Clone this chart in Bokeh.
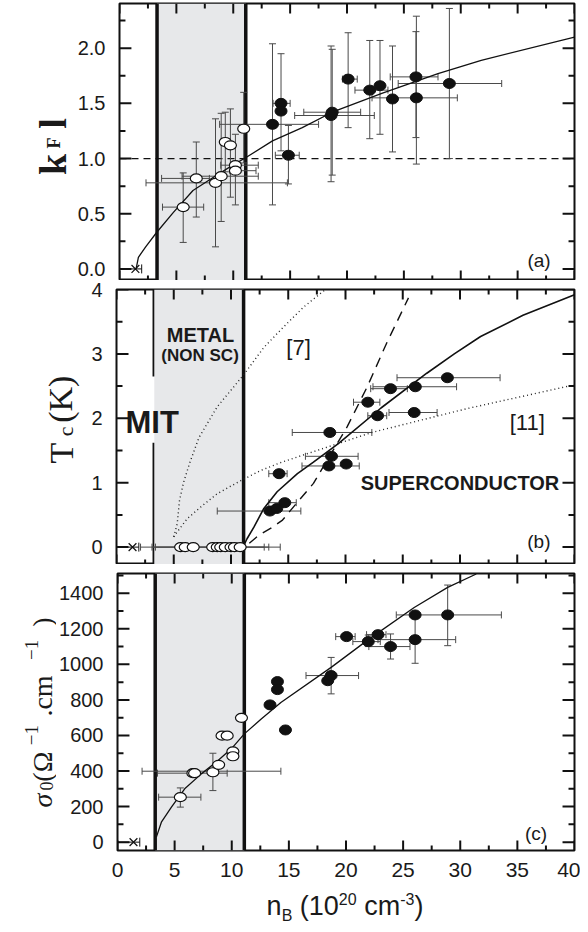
import numpy as np
from bokeh.plotting import figure
from bokeh.models import (ColumnDataSource, Whisker, TeeHead, Span, BoxAnnotation, Label,
                          LinearAxis, FixedTicker, Range1d, Div, NumeralTickFormatter)
from bokeh.layouts import column, row
from bokeh.embed import file_html
from bokeh.resources import INLINE

FONT = "Liberation Sans"
SERIF = "Liberation Serif"

# ---------------- data ----------------
x_ticks = [0, 5, 10, 15, 20, 25, 30, 35, 40]
x_minor = [2.5, 7.5, 12.5, 17.5, 22.5, 27.5, 32.5, 37.5]
band_left, band_right = 3.3, 11.1
mit_line_y0 = [4.0, 1.62]
mit_line_y1 = [2.65, -0.3]

# panel (a)  kF l
a_yr = (-0.105, 2.405)
a_ticks = [0, 0.5, 1.0, 1.5, 2.0]
a_minor = [0.25, 0.75, 1.25, 1.75, 2.25]
a_open_x = [5.6, 6.75, 8.44, 8.94, 9.3, 9.75, 10.19, 10.19, 10.92]
a_open_y = [0.56, 0.82, 0.78, 0.84, 1.15, 1.12, 0.94, 0.89, 1.27]
a_fill_x = [13.45, 14.2, 14.2, 14.85, 18.6, 18.7, 20.1, 22.0, 22.9, 24.0, 26.1, 26.06, 29.0]
a_fill_y = [1.31, 1.50, 1.43, 1.03, 1.39, 1.42, 1.72, 1.62, 1.66, 1.54, 1.55, 1.74, 1.68]
a_yerr_x = [5.6, 6.75, 8.44, 8.94, 9.3, 9.75, 10.19, 10.92,
            13.45, 14.2, 14.85, 18.6, 18.7, 20.1, 22.0, 22.9, 24.0, 26.1, 26.06, 29.0]
a_yerr_lo = [0.24, 0.47, 0.20, 0.43, 0.88, 0.65, 0.58, 0.96,
             0.58, 1.07, 0.77, 0.79, 0.85, 1.28, 1.18, 1.22, 1.06, 0.95, 1.19, 1.00]
a_yerr_hi = [0.87, 1.15, 1.36, 1.41, 1.42, 1.45, 1.22, 1.60,
             2.04, 1.95, 1.30, 2.02, 1.99, 2.14, 2.07, 2.07, 2.02, 2.29, 2.15, 2.36]
a_xerr_y = [0.56, 0.82, 0.78, 0.84, 0.94, 0.89,
            1.31, 1.50, 1.03, 1.39, 1.42, 1.72, 1.62, 1.55, 1.74, 1.68]
a_xerr_lo = [3.78, 3.7, 2.33, 5.5, 8.9, 9.7,
             8.8, 13.5, 13.7, 15.4, 16.2, 19.6, 20.7, 22.2, 23.8, 24.5]
a_xerr_hi = [7.4, 7.9, 14.76, 12.2, 12.2, 12.0,
             17.5, 15.0, 15.8, 22.4, 21.2, 20.9, 23.6, 29.7, 28.0, 33.6]
a_curve_x = [1.46, 1.66, 2.3, 3.26, 4.72, 6.46, 8.5, 9.96, 11.12, 13.45, 16.07, 18.7, 23.06, 28.0, 31.8, 40.0]
a_curve_y = [0.0, 0.105, 0.2, 0.33, 0.51, 0.71, 0.846, 0.94, 1.01, 1.16, 1.28, 1.42, 1.59, 1.77, 1.89, 2.10]

# panel (b)  Tc
b_yr = (-0.27, 4.0)
b_ticks = [0, 1, 2, 3, 4]
b_minor = [0.5, 1.5, 2.5, 3.5]
b_open_x = [5.6, 6.0, 6.7, 8.4, 8.8, 9.1, 9.5, 10.0, 10.3, 10.8]
b_open_y = [0, 0, 0, 0, 0, 0, 0, 0, 0, 0]
b_fill_x = [13.4, 14.0, 14.7, 14.2, 18.63, 18.78, 18.55, 20.06, 21.95, 22.8, 23.93, 26.1, 26.0, 28.9]
b_fill_y = [0.56, 0.60, 0.69, 1.14, 1.78, 1.41, 1.26, 1.29, 2.25, 2.04, 2.46, 2.49, 2.09, 2.63]
b_xerr_y = [0, 0, 0, 0.56, 0.69, 1.14, 1.78, 1.41, 1.26, 2.25, 2.04, 2.46, 2.49, 2.09, 2.63]
b_xerr_lo = [2.1, 3.1, 3.4, 8.8, 13.3, 13.3, 15.35, 16.5, 16.2, 20.7, 21.95, 22.2, 22.4, 23.8, 24.5]
b_xerr_hi = [14.3, 13.3, 12.9, 16.1, 15.7, 14.9, 22.3, 21.1, 21.2, 23.0, 23.6, 25.4, 29.7, 28.0, 33.5]
b_solid_x = [11.1, 11.4, 12.0, 12.87, 14.03, 15.8, 17.2, 19.4, 23.1, 27.1, 29.5, 31.8, 35.5, 40.0]
b_solid_y = [0.02, 0.13, 0.31, 0.60, 0.86, 1.14, 1.32, 1.61, 2.16, 2.70, 3.0, 3.27, 3.6, 3.92]
b_dash_x = [11.6, 12.4, 13.45, 14.5, 15.2, 17.2, 18.4, 20.15, 21.9, 23.6, 25.5]
b_dash_y = [0.06, 0.18, 0.29, 0.42, 0.57, 0.99, 1.35, 1.87, 2.49, 3.17, 3.87]
b_dot7_x = [5.0, 5.3, 5.5, 5.85, 6.4, 7.2, 8.8, 10.25, 11.12, 12.87, 14.6, 16.36, 18.25]
b_dot7_y = [0.16, 0.36, 0.72, 1.0, 1.31, 1.7, 2.18, 2.49, 2.68, 3.1, 3.42, 3.73, 4.0]
b_dot11_x = [5.0, 5.15, 6.17, 7.34, 8.8, 10.83, 12.6, 14.3, 15.8, 22.3, 30.6, 40.0]
b_dot11_y = [0.16, 0.2, 0.44, 0.62, 0.83, 1.03, 1.19, 1.31, 1.40, 1.78, 2.15, 2.52]

# panel (c)  sigma0
c_yr = (-47, 1511)
c_ticks = [0, 200, 400, 600, 800, 1000, 1200, 1400]
c_minor = [100, 300, 500, 700, 900, 1100, 1300, 1500]
c_open_x = [5.5, 6.6, 6.75, 8.35, 8.85, 9.15, 9.6, 10.1, 10.1, 10.85]
c_open_y = [253, 388, 388, 393, 435, 599, 599, 510, 483, 699]
c_fill_x = [13.35, 14.0, 14.0, 14.7, 18.4, 18.7, 20.05, 21.95, 22.8, 23.9, 26.05, 26.05, 28.9]
c_fill_y = [772, 903, 858, 631, 908, 937, 1156, 1128, 1167, 1100, 1278, 1139, 1278]
c_yerr_x = [5.5, 8.35, 18.7, 21.95, 23.9, 26.05, 28.9]
c_yerr_lo = [197, 290, 834, 1100, 1030, 1006, 1105]
c_yerr_hi = [305, 500, 1039, 1165, 1171, 1270, 1446]
c_xerr_y = [253, 388, 399, 937, 1156, 1128, 1167, 1100, 1139, 1278]
c_xerr_lo = [3.6, 3.5, 2.15, 16.5, 19.1, 20.6, 21.8, 22.0, 22.8, 24.4]
c_xerr_hi = [7.3, 9.6, 14.3, 21.1, 20.8, 23.0, 23.5, 25.6, 29.6, 33.6]
c_curve_x = [3.4, 3.84, 4.72, 5.88, 7.34, 8.8, 9.96, 11.1, 12.58, 14.3, 18.7, 21.95, 25.97, 28.9, 31.4]
c_curve_y = [28, 112, 197, 300, 384, 459, 525, 609, 693, 785, 983, 1139, 1320, 1433, 1508]

# insulating sample (cross) in every panel
ins_x = [1.4]
ins_xerr_lo = [0.0]
ins_xerr_hi = [1.95]

EB = "#4a4a4a"
INK = "#111111"
TOTAL_W = 580
FRAME_LEFT = 116
FRAME_W = 458
V = np.pi / 2
X0, X1 = 0, 40
TICK_X_MAJOR, TICK_X_MINOR = 10, 5      # px
TICK_Y_MAJOR, TICK_Y_MINOR = 12, 6      # px
TICK_W = 2                              # px


def make_fig(h, yr, yt, ym, fmt, btop, bbot, show_x, lw):
    p = figure(width=TOTAL_W - lw, height=h, x_range=Range1d(X0, X1), y_range=yr,
               output_backend="svg", toolbar_location=None, tools="",
               min_border_left=FRAME_LEFT - lw, min_border_right=6,
               min_border_top=btop, min_border_bottom=bbot,
               x_axis_location=None, y_axis_location=None)
    p.grid.visible = False
    p.outline_line_color = INK
    p.outline_line_width = 2
    p.background_fill_color = "white"
    p.border_fill_color = "white"
    ax = LinearAxis(ticker=FixedTicker(ticks=yt), formatter=NumeralTickFormatter(format=fmt))
    ax.major_tick_in = 0
    ax.major_tick_out = 0
    ax.minor_tick_line_color = None
    ax.axis_line_color = None
    ax.major_label_text_font = FONT
    ax.major_label_text_font_size = "20px"
    ax.major_label_text_color = "#1a1a1a"
    ax.major_label_standoff = 14
    p.add_layout(ax, "left")
    if show_x:
        bx = LinearAxis(ticker=FixedTicker(ticks=x_ticks))
        bx.major_tick_in = 0
        bx.major_tick_out = 0
        bx.minor_tick_line_color = None
        bx.axis_line_color = None
        bx.major_label_text_font = FONT
        bx.major_label_text_font_size = "21px"
        bx.major_label_text_color = "#1a1a1a"
        bx.major_label_standoff = 12
        p.add_layout(bx, "below")
    p.add_layout(BoxAnnotation(left=band_left, right=band_right, fill_color="#e7e8ea",
                               fill_alpha=1, line_color=None, level="underlay"))
    return p


def tick_box(p, left, right, bottom, top):
    p.add_layout(BoxAnnotation(left=left, right=right, bottom=bottom, top=top,
                               fill_color=INK, fill_alpha=1, line_color=None, level="overlay"))


def add_ticks(p, h, yr, yt, ym, btop, bbot):
    # inward ticks on all four sides (pixel sizes converted with the frame's own scale)
    fh = h - btop - bbot
    y0, y1 = yr.start, yr.end
    dy = (y1 - y0) / fh
    dx = (X1 - X0) / FRAME_W
    hw_x = TICK_W / 2 * dx
    hw_y = TICK_W / 2 * dy
    for tx, L in ((x_ticks, TICK_X_MAJOR), (x_minor, TICK_X_MINOR)):
        for t in tx:
            tick_box(p, t - hw_x, t + hw_x, y0, y0 + L * dy)
            tick_box(p, t - hw_x, t + hw_x, y1 - L * dy, y1)
    for ty, L in ((yt, TICK_Y_MAJOR), (ym, TICK_Y_MINOR)):
        for t in ty:
            tick_box(p, X0, X0 + L * dx, t - hw_y, t + hw_y)
            tick_box(p, X1 - L * dx, X1, t - hw_y, t + hw_y)


def label_fig(w, h, yr, btop, bbot):
    f = figure(width=w, height=h, x_range=Range1d(0, w), y_range=yr,
               output_backend="svg", toolbar_location=None, tools="",
               min_border_left=0, min_border_right=0, min_border_top=btop, min_border_bottom=bbot,
               x_axis_location=None, y_axis_location=None)
    f.grid.visible = False
    f.outline_line_color = None
    f.background_fill_color = "white"
    f.border_fill_color = "white"
    return f


def whisk(p, base, lo, hi, dim):
    src = ColumnDataSource(dict(base=base, lower=lo, upper=hi))
    p.add_layout(Whisker(source=src, base="base", lower="lower", upper="upper", dimension=dim,
                         line_color=EB, line_width=1, level="underlay",
                         upper_head=TeeHead(size=7, line_color=EB, line_width=1),
                         lower_head=TeeHead(size=7, line_color=EB, line_width=1)))


def band_lines(p):
    for loc in (band_left, band_right):
        p.add_layout(Span(location=loc, dimension="height", line_color=INK,
                          line_width=3.5, level="underlay"))


def open_pts(p, xs, ys):
    p.ellipse(x=xs, y=ys, width=12, height=9, width_units="screen", height_units="screen",
              fill_color="white", line_color=INK, line_width=1.2)


def fill_pts(p, xs, ys):
    p.ellipse(x=xs, y=ys, width=12, height=10, width_units="screen", height_units="screen",
              fill_color=INK, line_color=INK, line_width=1)


def insul(p):
    src = ColumnDataSource(dict(base=[0], lower=ins_xerr_lo, upper=ins_xerr_hi))
    p.add_layout(Whisker(source=src, base="base", lower="lower", upper="upper", dimension="width",
                         line_color=INK, line_width=1, lower_head=None,
                         upper_head=TeeHead(size=9, line_color=INK, line_width=1)))
    p.scatter(x=ins_x, y=[0], marker="x", size=11, line_color=INK, line_width=1.2)


def lab(p, x, y, text, size, font=FONT, fstyle="normal", align="left", angle=0.0, color="#1a1a1a"):
    p.add_layout(Label(x=x, y=y, text=text, text_font=font, text_font_size=size,
                       text_font_style=fstyle, text_align=align, text_baseline="alphabetic",
                       angle=angle, text_color=color))


def vlab(f, x, y_bottom, text, size, fstyle="normal"):
    # vertical (bottom-to-top) text piece starting at y_bottom
    lab(f, x, y_bottom, text, size, font=SERIF, fstyle=fstyle, align="left", angle=V)


# ---------------- panel (a) ----------------
ra = Range1d(*a_yr)
LWA = 74
pa = make_fig(280, ra, a_ticks, a_minor, "0.0", 3, 0, False, LWA)
band_lines(pa)
pa.add_layout(Span(location=1.0, dimension="width", line_color=INK, line_width=1.2,
                   line_dash="7 5", level="underlay"))
whisk(pa, a_yerr_x, a_yerr_lo, a_yerr_hi, "height")
whisk(pa, a_xerr_y, a_xerr_lo, a_xerr_hi, "width")
pa.line(a_curve_x, a_curve_y, line_color=INK, line_width=1.3)
open_pts(pa, a_open_x, a_open_y)
fill_pts(pa, a_fill_x, a_fill_y)
insul(pa)
add_ticks(pa, 280, ra, a_ticks, a_minor, 3, 0)
lab(pa, 37.9, 0.075, "(a)", "19px", align="right")
la = label_fig(LWA, 280, ra, 3, 0)
vlab(la, 52, 0.85, "k", "38px", "bold")
vlab(la, 53, 1.09, "F", "18px", "bold")
vlab(la, 52, 1.27, "l", "38px", "bold")

# ---------------- panel (b) ----------------
rb = Range1d(*b_yr)
LWB = 84
pb = make_fig(284, rb, b_ticks, b_minor, "0", 9, 0, False, LWB)
pb.add_layout(Span(location=band_right, dimension="height", line_color=INK,
                   line_width=3.5, level="underlay"))
pb.segment(x0=[band_left] * 2, y0=mit_line_y0, x1=[band_left] * 2, y1=mit_line_y1,
           line_color=INK, line_width=3.5, level="underlay")
whisk(pb, b_xerr_y, b_xerr_lo, b_xerr_hi, "width")
pb.line(b_dot7_x, b_dot7_y, line_color="#222", line_width=1.4, line_dash="1 3")
pb.line(b_dot11_x, b_dot11_y, line_color="#222", line_width=1.4, line_dash="1 3")
pb.line(b_dash_x, b_dash_y, line_color=INK, line_width=1.4, line_dash="10 7")
pb.line(b_solid_x, b_solid_y, line_color=INK, line_width=1.6)
open_pts(pb, b_open_x, b_open_y)
fill_pts(pb, b_fill_x, b_fill_y)
insul(pb)
add_ticks(pb, 284, rb, b_ticks, b_minor, 9, 0)
lab(pb, 37.9, 0.08, "(b)", "19px", align="right")
lab(pb, 0.79, 1.94, "MIT", "31px", fstyle="bold")
lab(pb, 7.34, 3.29, "METAL", "20px", fstyle="bold", align="center")
lab(pb, 7.3, 2.98, "(NON SC)", "17px", fstyle="bold", align="center")
lab(pb, 15.9, 3.1, "[7]", "22px", align="center")
lab(pb, 35.87, 1.93, "[11]", "22px", align="center")
lab(pb, 30.0, 0.99, "SUPERCONDUCTOR", "20px", fstyle="bold", align="center")
lb = label_fig(LWB, 284, rb, 9, 0)
vlab(lb, 61, 1.30, "T", "34px")
vlab(lb, 65, 1.72, "c", "22px")
vlab(lb, 60, 1.93, "(K)", "34px")

# ---------------- panel (c) ----------------
rc = Range1d(*c_yr)
LWC = 56
pc = make_fig(326, rc, c_ticks, c_minor, "0", 9, 40, True, LWC)
band_lines(pc)
whisk(pc, c_yerr_x, c_yerr_lo, c_yerr_hi, "height")
whisk(pc, c_xerr_y, c_xerr_lo, c_xerr_hi, "width")
pc.line(c_curve_x, c_curve_y, line_color=INK, line_width=1.3)
open_pts(pc, c_open_x, c_open_y)
fill_pts(pc, c_fill_x, c_fill_y)
insul(pc)
add_ticks(pc, 326, rc, c_ticks, c_minor, 9, 40)
lab(pc, 37.6, 47, "(c)", "19px", align="right")
lc = label_fig(LWC, 326, rc, 9, 40)
vlab(lc, 42, 195, "σ", "28px", "italic")
vlab(lc, 46, 290, "0", "18px")
vlab(lc, 42, 340, "(Ω", "28px")
vlab(lc, 31, 545, "−1", "19px")
vlab(lc, 42, 706, ".cm", "28px")
vlab(lc, 31, 1025, "−1", "19px")
vlab(lc, 42, 1211, ")", "28px")

xtitle = Div(text='n<sub style="font-size:16px">B</sub> (10<sup style="font-size:16px">20</sup> '
                  'cm<sup style="font-size:16px">-3</sup>)',
             width=458, height=36, margin=(0, 0, 0, FRAME_LEFT),
             styles={"font-family": FONT, "font-size": "27px", "text-align": "center",
                     "color": "#1a1a1a", "line-height": "1", "padding-top": "2px"})

layout = column(row(la, pa, spacing=0), row(lb, pb, spacing=0), row(lc, pc, spacing=0),
                xtitle, spacing=0)
open("out.html", "w").write(file_html(layout, INLINE))
